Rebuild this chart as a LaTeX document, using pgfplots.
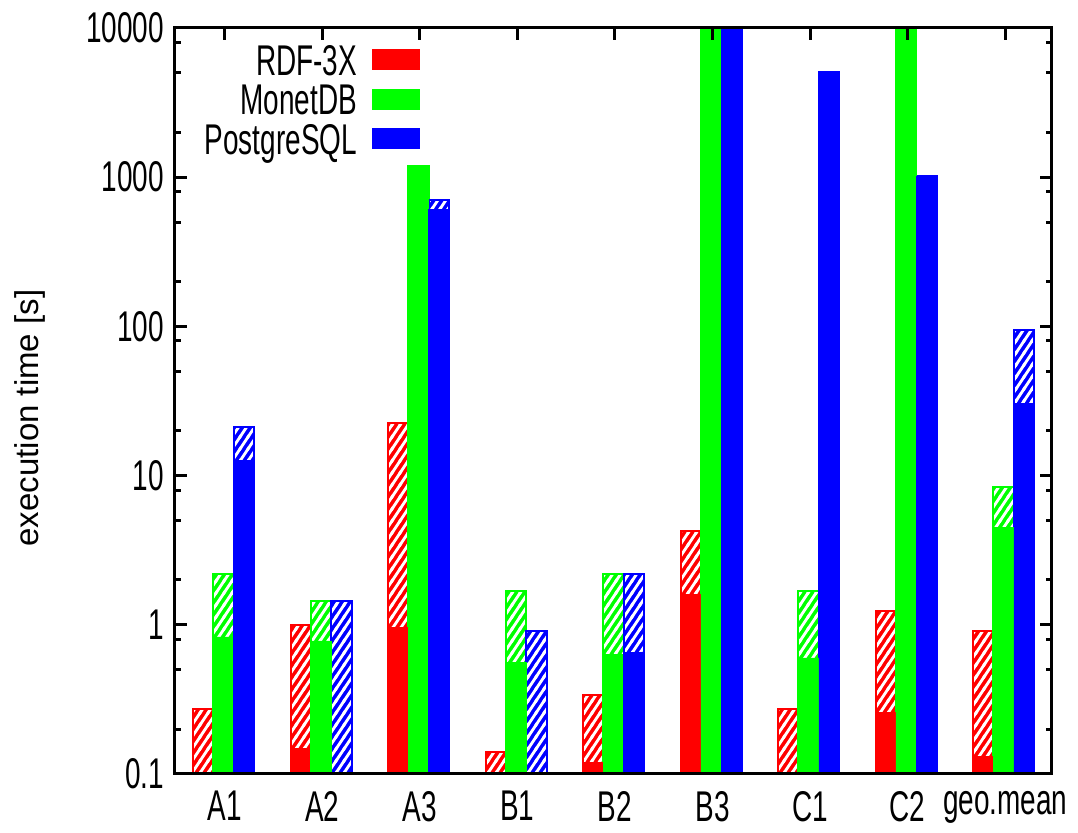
\documentclass[border=0pt]{standalone}
\usepackage{fontspec}
\setmainfont{Liberation Sans}
\newfontfamily\narrowfont[FakeStretch=0.65]{Liberation Sans}
\usepackage{pgfplots}
\pgfplotsset{compat=1.18}
\usetikzlibrary{patterns}
\pgfdeclarepatternformonly{hatchw}{\pgfqpoint{-1pt}{-1pt}}{\pgfqpoint{5pt}{7pt}}{\pgfqpoint{4pt}{6pt}}{%
  \pgfsetlinewidth{1.4pt}%
  \pgfpathmoveto{\pgfqpoint{-0.6667pt}{-1pt}}%
  \pgfpathlineto{\pgfqpoint{4.6667pt}{7pt}}%
  \pgfusepath{stroke}}
\tikzset{
  hatched/.style={pattern=hatchw, pattern color=white, draw=#1, line width=1pt},
  solidbar/.style={fill=#1, draw=#1, line width=0.3pt}
}
% x  hatched-top  solid-top
\pgfplotstableread{
x  top    sol
0  0.272  nan
1  0.99   0.149
2  22.4   0.96
3  0.14   nan
4  0.338  0.12
5  4.23   1.60
6  0.272  nan
7  1.23   0.26
8  0.906  0.132
}\rdf
\pgfplotstableread{
x  top    sol
0  2.18   0.83
1  1.44   0.78
2  1190   1190
3  1.68   0.56
4  2.18   0.63
5  20000  20000
6  1.68   0.60
7  20000  20000
8  8.34   4.50
}\monet
\pgfplotstableread{
x  top    sol
0  21.3   12.6
1  1.44   nan
2  706    605
3  0.906  nan
4  2.18   0.655
5  20000  20000
6  5070   5070
7  1020   1020
8  95.2   30.4
}\pg
\begin{document}
\begin{tikzpicture}
\path[use as bounding box] (-87.5pt,-29.5pt) rectangle (451.5pt,387pt);
\begin{axis}[
  scale only axis, width=438.5pt, height=373pt,
  ymode=log, ymin=0.1, ymax=10000, log origin y=infty,
  xmin=-0.51, xmax=8.48,
  axis on top,
  xtick={0,...,8},
  xticklabels={A1,A2,A3,B1,B2,B3,C1,C2,geo.mean},
  xtick pos=upper, xticklabel pos=lower,
  xticklabel style={yshift=-5pt},
  yticklabel style={xshift=-2pt},
  ytick={0.1,1,10,100,1000,10000},
  yticklabels={0.1,1,10,100,1000,10000},
  minor ytick={0.2,0.5,0.8,2,5,8,20,50,80,200,500,800,2000,5000,8000},
  ytick pos=both,
  tick align=inside,
  major tick length=6pt, minor tick length=3pt,
  axis line style={line width=1.5pt},
  every tick/.style={black, line width=1.5pt},
  ticklabel style={font=\narrowfont\fontsize{21.5}{24}\selectfont},
  ylabel={execution time [s]},
  ylabel style={font=\fontsize{16.5}{18}\selectfont, at={(axis description cs:-0.165,0.477)}, anchor=center},
  legend style={at={(0.2794,0.979)}, anchor=north east, draw=none, fill=none,
    inner sep=0pt, font=\narrowfont\fontsize{21.5}{24}\selectfont,
    nodes={inner sep=0pt, text height=15.5pt, text depth=0pt},
    row sep=4.25pt, column sep=7.5pt},
  legend plot pos=right, legend cell align=right,
  legend image code/.code={\path[#1] (0pt,-5pt) rectangle (23.5pt,5pt);},
]
% full-height bars: colour fill, then white hatching on top
\addplot[ybar, bar width=0.21, bar shift=-0.22, solidbar=red, forget plot] table[x=x,y=top] {\rdf};
\addplot[ybar, bar width=0.21, bar shift=-0.015, solidbar=green, forget plot] table[x=x,y=top] {\monet};
\addplot[ybar, bar width=0.21, bar shift=0.195, solidbar=blue, forget plot] table[x=x,y=top] {\pg};
\addplot[ybar, bar width=0.21, bar shift=-0.22, hatched=red, forget plot] table[x=x,y=top] {\rdf};
\addplot[ybar, bar width=0.21, bar shift=-0.015, hatched=green, forget plot] table[x=x,y=top] {\monet};
\addplot[ybar, bar width=0.21, bar shift=0.195, hatched=blue, forget plot] table[x=x,y=top] {\pg};
% solid lower parts
\addplot[ybar, bar width=0.21, bar shift=-0.22, solidbar=red, unbounded coords=discard] table[x=x,y=sol] {\rdf};
\addlegendentry{RDF-3X}
\addplot[ybar, bar width=0.21, bar shift=-0.015, solidbar=green, unbounded coords=discard] table[x=x,y=sol] {\monet};
\addlegendentry{MonetDB}
\addplot[ybar, bar width=0.21, bar shift=0.195, solidbar=blue, unbounded coords=discard] table[x=x,y=sol] {\pg};
\addlegendentry{PostgreSQL}
\end{axis}
\end{tikzpicture}
\end{document}
